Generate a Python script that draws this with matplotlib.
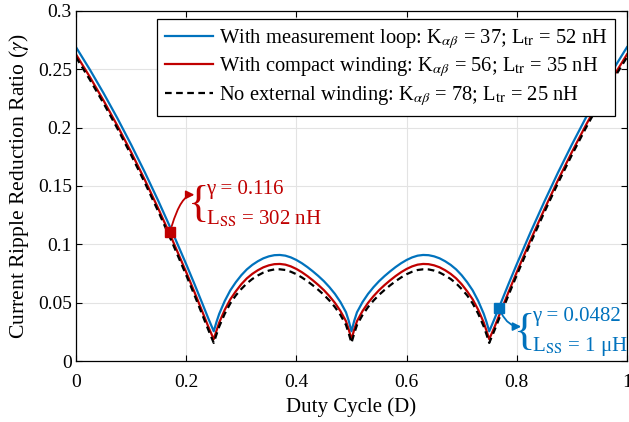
import matplotlib
matplotlib.use("Agg")
import matplotlib.pyplot as plt

plt.rcParams["font.family"] = ["Liberation Serif", "DejaVu Serif"]
plt.rcParams["mathtext.fontset"] = "stix"

# duty cycle grid (denser near the cusps)
duty = [
  0, 0.025, 0.05, 0.075, 0.1, 0.125, 0.15, 0.175, 0.2, 0.215, 0.23, 0.24,
  0.25, 0.255, 0.26, 0.27, 0.28, 0.29, 0.3, 0.31, 0.32, 0.33, 0.34, 0.35, 0.36, 0.37,
  0.38, 0.39, 0.4, 0.41, 0.42, 0.43, 0.44, 0.45, 0.46, 0.47, 0.48, 0.49, 0.495,
  0.5, 0.505, 0.51, 0.52, 0.53, 0.54, 0.55, 0.56, 0.57, 0.58, 0.59, 0.6, 0.61, 0.62,
  0.63, 0.64, 0.65, 0.66, 0.67, 0.68, 0.69, 0.7, 0.71, 0.72, 0.73, 0.74, 0.745,
  0.75, 0.76, 0.77, 0.785, 0.8, 0.825, 0.85, 0.875, 0.9, 0.925, 0.95, 0.975, 1.0,
]

gamma_loop = [
  0.269, 0.2499, 0.2296, 0.2082, 0.1855, 0.1617, 0.1366, 0.1104, 0.083, 0.066, 0.0485, 0.0367,
  0.0255, 0.0335, 0.0405, 0.0515, 0.0605, 0.0675, 0.0735, 0.0785, 0.0824, 0.0855, 0.088, 0.0897, 0.0907, 0.0909,
  0.0903, 0.0888, 0.0866, 0.0838, 0.0805, 0.0768, 0.0728, 0.0684, 0.0633, 0.0575, 0.0505, 0.0418, 0.0345,
  0.0255, 0.0345, 0.0418, 0.0505, 0.0575, 0.0633, 0.0684, 0.0728, 0.0768, 0.0805, 0.0838, 0.0866, 0.0888, 0.0903,
  0.0909, 0.0907, 0.0897, 0.088, 0.0855, 0.0824, 0.0785, 0.0735, 0.0675, 0.0605, 0.0515, 0.0405, 0.0335,
  0.0255, 0.0367, 0.0485, 0.066, 0.083, 0.1104, 0.1366, 0.1617, 0.1855, 0.2082, 0.2296, 0.2499, 0.269,
]

gamma_compact = [
  0.2628, 0.2436, 0.2233, 0.2018, 0.1791, 0.1552, 0.1300, 0.1037, 0.0762, 0.0591, 0.0415, 0.0296,
  0.0187, 0.026, 0.033, 0.0439, 0.0528, 0.0597, 0.0658, 0.0708, 0.0747, 0.0778, 0.0803, 0.082, 0.083, 0.0832,
  0.0826, 0.0811, 0.0789, 0.0761, 0.0728, 0.0691, 0.0651, 0.0607, 0.0556, 0.0498, 0.0428, 0.0342, 0.027,
  0.0187, 0.027, 0.0342, 0.0428, 0.0498, 0.0556, 0.0607, 0.0651, 0.0691, 0.0728, 0.0761, 0.0789, 0.0811, 0.0826,
  0.0832, 0.083, 0.082, 0.0803, 0.0778, 0.0747, 0.0708, 0.0658, 0.0597, 0.0528, 0.0439, 0.033, 0.026,
  0.0187, 0.0296, 0.0415, 0.0591, 0.0762, 0.1037, 0.1300, 0.1552, 0.1791, 0.2018, 0.2233, 0.2436, 0.2628,
]

gamma_none = [
  0.2604, 0.2412, 0.2209, 0.1994, 0.1766, 0.1527, 0.1275, 0.1011, 0.0736, 0.0565, 0.0388, 0.0269,
  0.0155, 0.0228, 0.0296, 0.0405, 0.0493, 0.0562, 0.0617, 0.0665, 0.0703, 0.0733, 0.0758, 0.0775, 0.0785, 0.0786,
  0.078, 0.0765, 0.0744, 0.0716, 0.0684, 0.0648, 0.0609, 0.0567, 0.0518, 0.0462, 0.0394, 0.0309, 0.0237,
  0.0155, 0.0237, 0.0309, 0.0394, 0.0462, 0.0518, 0.0567, 0.0609, 0.0648, 0.0684, 0.0716, 0.0744, 0.0765, 0.078,
  0.0786, 0.0785, 0.0775, 0.0758, 0.0733, 0.0703, 0.0665, 0.0617, 0.0562, 0.0493, 0.0405, 0.0296, 0.0228,
  0.0155, 0.0269, 0.0388, 0.0565, 0.0736, 0.1011, 0.1275, 0.1527, 0.1766, 0.1994, 0.2209, 0.2412, 0.2604,
]

labels = [
  r"With measurement loop: K$_{\alpha\beta}$ = 37; L$_{\rm tr}$ = 52 nH",
  r"With compact winding: K$_{\alpha\beta}$ = 56; L$_{\rm tr}$ = 35 nH",
  r"No external winding: K$_{\alpha\beta}$ = 78; L$_{\rm tr}$ = 25 nH",
]

# highlighted operating points
red_point = (0.171, 0.111)
red_text = ["γ = 0.116", r"L$_{\rm SS}$ = 302 nH"]
blue_point = (0.768, 0.0455)
blue_text = ["γ = 0.0482", r"L$_{\rm SS}$ = 1 μH"]

BLUE = "#0072BD"
RED = "#C00000"

fig = plt.figure(figsize=(6.29, 4.22), dpi=100)
ax = fig.add_axes([0.1208, 0.1445, 0.876, 0.8295])

ax.plot(duty, gamma_loop, color=BLUE, lw=1.6, label=labels[0])
ax.plot(duty, gamma_compact, color=RED, lw=1.6, label=labels[1])
ax.plot(duty, gamma_none, color="black", lw=1.6, ls=(0, (3, 2)), label=labels[2])

ax.set_xlim(0, 1)
ax.set_ylim(0, 0.3)
ax.set_xticks([0, 0.2, 0.4, 0.6, 0.8, 1])
ax.set_xticklabels(["0", "0.2", "0.4", "0.6", "0.8", "1"])
ax.set_yticks([0, 0.05, 0.1, 0.15, 0.2, 0.25, 0.3])
ax.set_yticklabels(["0", "0.05", "0.1", "0.15", "0.2", "0.25", "0.3"])
ax.tick_params(direction="in", top=True, right=True, labelsize=14, length=4, width=0.8)
ax.tick_params(axis="x", pad=9.5)
ax.tick_params(axis="y", pad=3)
ax.grid(True, color="#e3e3e3", lw=0.8)
ax.set_axisbelow(True)
for sp in ax.spines.values():
  sp.set_linewidth(0.9)

ax.set_xlabel("Duty Cycle (D)", fontsize=15, labelpad=4)
ax.set_ylabel(r"Current Ripple Reduction Ratio ($\gamma$)", fontsize=15.6, labelpad=5)

leg = ax.legend(loc="upper right", bbox_to_anchor=(0.979, 0.978), fontsize=14.8,
                frameon=True, fancybox=False, edgecolor="black", framealpha=1,
                handlelength=2.3, handletextpad=0.3, labelspacing=0.22, borderpad=0.4,
                borderaxespad=0)
leg.get_frame().set_linewidth(0.9)

# red operating point
ax.plot(*red_point, marker="s", ms=7.5, color=RED, zorder=5)
ax.annotate("", xy=(0.215, 0.1425), xytext=red_point, xycoords="data",
            arrowprops=dict(arrowstyle="-|>", color=RED, lw=1.3, mutation_scale=12,
                            shrinkA=4, shrinkB=0,
                            connectionstyle="angle3,angleA=75,angleB=0"))
ax.text(0.222, 0.1337, "{", color=RED, fontsize=32, va="center", ha="center")
ax.text(0.236, 0.1474, red_text[0], color=RED, fontsize=15, va="center")
ax.text(0.236, 0.1215, red_text[1], color=RED, fontsize=15, va="center")

# blue operating point
ax.plot(*blue_point, marker="s", ms=7.5, color=BLUE, zorder=5)
ax.annotate("", xy=(0.808, 0.0295), xytext=blue_point, xycoords="data",
            arrowprops=dict(arrowstyle="-|>", color=BLUE, lw=1.3, mutation_scale=12,
                            shrinkA=4, shrinkB=0,
                            connectionstyle="angle3,angleA=-70,angleB=0"))
ax.text(0.815, 0.0244, "{", color=BLUE, fontsize=32, va="center", ha="center")
ax.text(0.828, 0.038, blue_text[0], color=BLUE, fontsize=15, va="center")
ax.text(0.828, 0.0125, blue_text[1], color=BLUE, fontsize=15, va="center")

fig.savefig("out.png", dpi=100)
